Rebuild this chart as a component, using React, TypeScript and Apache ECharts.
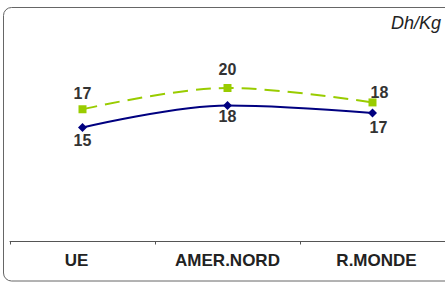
import React, { useEffect, useRef } from "react";
import * as echarts from "echarts";

const categories = ["UE", "AMER.NORD", "R.MONDE"];
const seriesBlue = [15.0, 17.9, 16.9];
const seriesGreen = [17.4, 20.2, 18.3];
const unitLabel = "Dh/Kg";

export default function App() {
  const ref = useRef<HTMLDivElement>(null);
  useEffect(() => {
    if (!ref.current) return;
    const chart = echarts.init(ref.current, null, { renderer: "svg" });
    const font = "'Liberation Sans', Arial, sans-serif";
    const labelBase = {
      show: true,
      fontSize: 16,
      fontWeight: "bold",
      color: "#333",
      fontFamily: font,
      formatter: (p: any) => String(Math.round(p.value)),
    };
    const catStyle = { fontSize: 17, fontWeight: "bold", color: "#222", fontFamily: font };
    chart.setOption({
      animation: false,
      textStyle: { fontFamily: font },
      graphic: [
        {
          type: "rect",
          shape: { x: 3.5, y: 7.5, width: 460, height: 273.5, r: 8 },
          style: { fill: "none", stroke: "#666", lineWidth: 1 },
          z: -1,
        },
        {
          type: "text",
          x: 441,
          y: 14,
          style: {
            text: unitLabel,
            font: `italic 18px ${font}`,
            fill: "#222",
            align: "right",
            verticalAlign: "top",
          },
        },
      ],
      grid: { left: 10, right: 0, top: 13.5, bottom: 42.5, containLabel: false },
      xAxis: {
        type: "category",
        data: categories,
        boundaryGap: true,
        axisLine: { lineStyle: { color: "#555", width: 1 } },
        axisTick: { show: true, interval: 0, length: 3, lineStyle: { color: "#555" } },
        axisLabel: {
          interval: 0,
          hideOverlap: false,
          margin: 10,
          ...catStyle,
          formatter: (v: string, i: number) =>
            i === 0 ? `{l|${v}}` : i === 2 ? `{r|${v}}` : `{c|${v}}`,
          rich: {
            l: { ...catStyle, padding: [0, 12, 0, 0] },
            c: { ...catStyle },
            r: { ...catStyle, padding: [0, 0, 0, 8] },
          },
        },
      },
      yAxis: {
        type: "value",
        min: 0,
        max: 30,
        show: false,
        splitLine: { show: false },
      },
      series: [
        {
          type: "line",
          data: seriesGreen.map((v, i) =>
            i === 1
              ? { value: v, label: { offset: [0, -2] } }
              : i === 2
              ? { value: v, label: { offset: [7, 6] } }
              : v
          ),
          smooth: 0.35,
          symbol: "rect",
          symbolSize: 8,
          itemStyle: { color: "#99CC00" },
          lineStyle: { color: "#99CC00", width: 2, type: [15, 8] },
          label: { ...labelBase, position: "top", distance: 4 },
        },
        {
          type: "line",
          data: seriesBlue.map((v, i) =>
            i === 2 ? { value: v, label: { offset: [6, 2] } } : i === 1 ? { value: v, label: { offset: [0, -1] } } : v
          ),
          smooth: 0.35,
          symbol: "diamond",
          symbolSize: 9,
          itemStyle: { color: "#000080" },
          lineStyle: { color: "#000080", width: 2 },
          label: { ...labelBase, position: "bottom", distance: 0 },
        },
      ],
    });
    return () => chart.dispose();
  }, []);
  return (
    <div
      ref={ref}
      style={{ position: "absolute", left: 0, top: 0, width: 445, height: 284, background: "#fff" }}
    />
  );
}
